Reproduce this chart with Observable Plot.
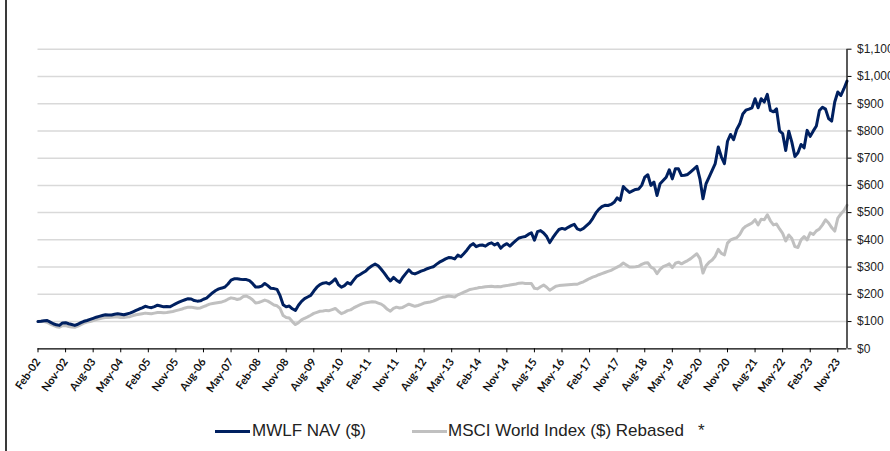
<!DOCTYPE html>
<html>
<head>
<meta charset="utf-8">
<script src="https://cdn.jsdelivr.net/npm/d3@7"></script>
<script src="https://cdn.jsdelivr.net/npm/@observablehq/plot@0.6"></script>
<style>
  body { margin: 0; background: #fff; }
  #wrap { position: relative; width: 890px; height: 451px; overflow: hidden; background: #fff; }
  #frame { position: absolute; left: 5px; top: 0; width: 2px; height: 451px; background: #3a3a3a; }
  #chart { position: absolute; left: 0; top: 0; }
  .leg { position: absolute; font-family: "Liberation Sans", Arial, sans-serif; font-size: 17px; color: #222; line-height: 20px; top: 421px; white-space: nowrap; }
  .sw { position: absolute; height: 3px; top: 430px; }
</style>
</head>
<body>
<div id="wrap">
  <div id="chart"></div>
  <div id="frame"></div>
  <div class="sw" id="sw1" style="left:215px;width:35px;"></div>
  <div class="leg" id="lg1" style="left:252px;"></div>
  <div class="sw" id="sw2" style="left:412px;width:35px;"></div>
  <div class="leg" id="lg2" style="left:448px;"></div>
  <div class="leg" style="left:698px;">*</div>
</div>
<script>
// Series names and colours
const seriesNames = ["MWLF NAV ($)", "MSCI World Index ($) Rebased"];
const seriesColors = ["#002060", "#c0c0c0"];

// Monthly values, Feb-02 .. Feb-24
const mwlf = [
  100,101,103,104,98,92,88,86,95,96,
  92,89,86,90,96,101,104,108,112,116,
  119,122,125,124,124,127,129,127,125,128,
  131,136,141,146,150,156,153,151,155,160,
  157,154,155,154,160,166,171,176,180,184,
  183,177,175,176,182,186,196,206,214,220,
  223,227,238,252,257,257,255,254,254,250,
  240,227,227,230,240,232,222,221,218,195,
  162,154,157,147,141,160,174,184,190,196,
  212,226,236,241,243,238,246,257,236,226,
  232,243,237,252,266,272,279,286,297,305,
  311,305,292,278,262,249,262,252,244,262,
  276,290,278,275,280,285,289,294,298,301,
  310,318,324,330,335,334,330,344,338,350,
  363,378,386,375,380,381,377,385,389,381,
  387,369,380,386,377,388,398,407,410,412,
  420,426,399,430,434,425,412,390,408,424,
  438,442,439,446,452,457,440,436,442,452,
  462,478,498,512,522,527,526,530,538,554,
  545,596,584,574,580,585,587,600,630,639,
  600,612,563,606,618,630,657,624,661,661,
  636,637,640,650,660,670,624,551,606,630,
  655,680,741,705,680,762,787,768,805,826,
  862,876,880,885,918,885,918,906,934,875,
  870,881,800,790,728,799,759,706,720,750,
  738,802,780,800,818,875,887,880,845,836,
  906,943,930,955,983
];
const msci = [
  100,101,100,97,91,86,81,79,85,85,
  82,80,79,83,89,94,98,100,104,107,
  110,113,115,115,116,117,117,115,115,117,
  118,122,125,127,129,131,130,129,131,133,
  133,132,133,135,137,140,143,146,150,153,
  153,151,149,150,155,159,164,166,168,170,
  172,176,182,187,185,181,184,192,194,188,
  180,168,170,174,179,175,168,161,158,148,
  122,115,113,100,89,96,106,112,117,123,
  130,134,138,139,141,140,144,148,138,129,
  134,140,143,150,156,161,166,169,171,173,
  172,168,164,156,145,138,148,153,150,152,
  158,164,160,156,159,163,168,170,172,175,
  180,185,189,191,194,192,190,198,203,208,
  213,218,220,222,225,226,228,229,230,228,
  229,228,231,232,234,236,238,241,242,240,
  240,240,222,220,228,234,226,215,222,230,
  232,233,234,235,236,237,237,242,246,252,
  258,263,267,272,276,280,284,288,294,300,
  306,315,308,300,300,301,303,310,315,316,
  300,294,276,292,302,306,312,298,314,318,
  312,318,324,331,340,349,331,278,305,318,
  326,340,365,350,345,388,400,404,408,420,
  440,450,456,462,474,455,476,474,492,470,
  455,458,440,424,396,418,405,375,372,400,
  412,400,426,420,433,440,455,474,462,445,
  432,480,495,508,527
];

// X tick labels, every 9 months from Feb-02
const xTickLabels = ["Feb-02","Nov-02","Aug-03","May-04","Feb-05","Nov-05","Aug-06","May-07","Feb-08","Nov-08",
  "Aug-09","May-10","Feb-11","Nov-11","Aug-12","May-13","Feb-14","Nov-14","Aug-15","May-16",
  "Feb-17","Nov-17","Aug-18","May-19","Feb-20","Nov-20","Aug-21","May-22","Feb-23","Nov-23"];
const xTickStep = 9;
const yTicks = [0,100,200,300,400,500,600,700,800,900,1000,1100];

const xTicks = xTickLabels.map((_, i) => i * xTickStep);
const lastIdx = mwlf.length - 1;
const rows = [
  ...msci.map((v, i) => ({i, v, s: seriesNames[1]})),
  ...mwlf.map((v, i) => ({i, v, s: seriesNames[0]}))
];

const chart = Plot.plot({
  width: 890,
  height: 400,
  marginLeft: 37.5,
  marginRight: 43.5,
  marginTop: 48.7,
  marginBottom: 51.7,
  style: {fontFamily: "'Liberation Sans', Arial, sans-serif", background: "transparent"},
  x: {type: "linear", domain: [0, lastIdx]},
  y: {domain: [0, 1100]},
  color: {domain: seriesNames, range: seriesColors},
  marks: [
    Plot.gridY(yTicks.filter(d => d > 0), {stroke: "#d9d9d9", strokeOpacity: 1, strokeWidth: 1.5}),
    Plot.line(rows.filter(d => d.s === seriesNames[1]), {x: "i", y: "v", stroke: "s", strokeWidth: 3, strokeLinejoin: "round"}),
    Plot.line(rows.filter(d => d.s === seriesNames[0]), {x: "i", y: "v", stroke: "s", strokeWidth: 3, strokeLinejoin: "round"}),
    Plot.ruleY([0], {stroke: "#000", strokeWidth: 1.3}),
    Plot.ruleX([lastIdx], {stroke: "#000", strokeWidth: 1.3}),
    Plot.axisX(xTicks, {
      tickFormat: d => xTickLabels[Math.round(d / xTickStep)],
      tickRotate: -55, tickSize: 4, tickPadding: 7,
      fontSize: 11, fontWeight: 700, fontFamily: "Lato, 'Open Sans', sans-serif",
      fill: "#111", stroke: "#000", label: null
    }),
    Plot.axisY(yTicks, {
      anchor: "right",
      tickFormat: d => "$" + d3.format(",")(d),
      tickSize: 4, tickPadding: 6, fontSize: 12, fill: "#222", stroke: "#000", label: null
    })
  ]
});
document.getElementById("chart").appendChild(chart);

document.getElementById("sw1").style.background = seriesColors[0];
document.getElementById("sw2").style.background = seriesColors[1];
document.getElementById("lg1").textContent = seriesNames[0];
document.getElementById("lg2").textContent = seriesNames[1];
</script>
</body>
</html>
